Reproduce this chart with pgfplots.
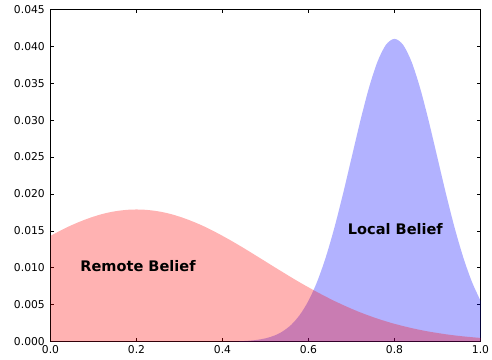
\documentclass[border=0pt]{standalone}
\usepackage{fontspec}
\setmainfont{DejaVu Sans}
\usepackage{pgfplots}
\pgfplotsset{compat=1.18}
\begin{document}
\begin{tikzpicture}
\useasboundingbox (0,0) rectangle (492bp,360bp);
\begin{axis}[
  at={(50.5bp,18.3bp)}, anchor=south west,
  scale only axis, width=430bp, height=332.4bp,
  xmin=0, xmax=1, ymin=0, ymax=0.045,
  xtick={0,0.2,0.4,0.6,0.8,1.0},
  ytick={0,0.005,0.010,0.015,0.020,0.025,0.030,0.035,0.040,0.045},
  scaled y ticks=false, scaled x ticks=false,
  tick align=inside, xtick pos=both, ytick pos=both,
  major tick length=4bp,
  axis line style={line width=0.9bp},
  tick style={line width=0.8bp, black},
  /pgf/number format/assume math mode=true,
  xticklabel style={/pgf/number format/.cd, fixed, fixed zerofill, precision=1, /tikz/.cd, inner sep=0pt, yshift=-3.3bp},
  yticklabel style={/pgf/number format/.cd, fixed, fixed zerofill, precision=3, /tikz/.cd, inner sep=0pt, xshift=-5.5bp},
  ticklabel style={font=\fontsize{10.8}{13}\selectfont},
]
\addplot[fill=blue, fill opacity=0.3, draw=none, smooth] coordinates {
(0,0) (0.38,0) (0.40,0.00001) (0.42,0.00003) (0.44,0.000063) (0.46,0.000127) (0.48,0.000245)
(0.50,0.000456) (0.52,0.000813) (0.54,0.00140) (0.56,0.00230) (0.58,0.00365)
(0.60,0.00555) (0.62,0.00811) (0.64,0.01140) (0.66,0.01539) (0.68,0.01996)
(0.70,0.02487) (0.72,0.02977) (0.74,0.03425) (0.76,0.03785) (0.78,0.04019)
(0.80,0.04100) (0.82,0.04019) (0.84,0.03785) (0.86,0.03425) (0.88,0.02977)
(0.90,0.02487) (0.92,0.01996) (0.94,0.01539) (0.96,0.01140) (0.98,0.00811)
(1.00,0.00555)
} \closedcycle;
\addplot[fill=red, fill opacity=0.3, draw=none, smooth] coordinates {
(0.00,0.01433) (0.02,0.01495) (0.04,0.01553) (0.06,0.01605) (0.08,0.01652)
(0.10,0.01693) (0.12,0.01728) (0.14,0.01755) (0.16,0.01774) (0.18,0.01786)
(0.20,0.01790) (0.22,0.01786) (0.24,0.01774) (0.26,0.01755) (0.28,0.01728)
(0.30,0.01693) (0.32,0.01652) (0.34,0.01605) (0.36,0.01553) (0.38,0.01495)
(0.40,0.01433) (0.42,0.01368) (0.44,0.01300) (0.46,0.01230) (0.48,0.01158)
(0.50,0.01086) (0.52,0.01013) (0.54,0.00942) (0.56,0.00871) (0.58,0.00802)
(0.60,0.00736) (0.62,0.00672) (0.64,0.00611) (0.66,0.00552) (0.68,0.00498)
(0.70,0.00446) (0.72,0.00398) (0.74,0.00354) (0.76,0.00313) (0.78,0.00276)
(0.80,0.00242) (0.82,0.00212) (0.84,0.00184) (0.86,0.00159) (0.88,0.00137)
(0.90,0.00118) (0.92,0.00100) (0.94,0.00085) (0.96,0.00072) (0.98,0.00061)
(1.00,0.00051)
} \closedcycle;
\node[font=\bfseries\fontsize{14.6}{17}\selectfont, inner sep=0pt] at (axis cs:0.2035,0.0102) {Remote Belief};
\node[font=\bfseries\fontsize{14.6}{17}\selectfont, inner sep=0pt] at (axis cs:0.802,0.0152) {Local Belief};
\end{axis}
\end{tikzpicture}
\end{document}
